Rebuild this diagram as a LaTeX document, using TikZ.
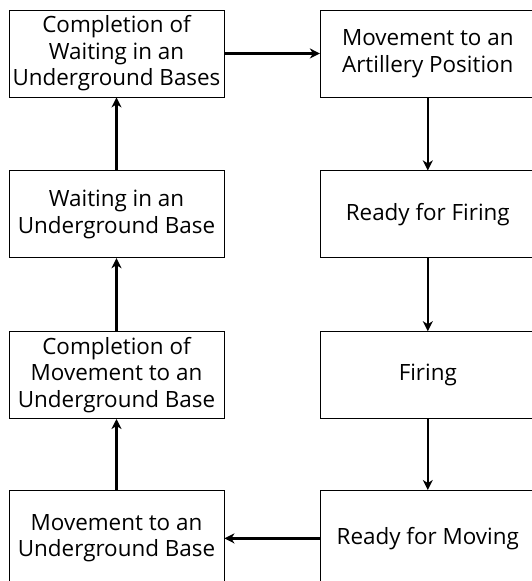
\documentclass[tikz,border=0pt]{standalone}
\usepackage{fontspec}
\setmainfont{Open Sans}
\usetikzlibrary{positioning,arrows.meta}

\begin{document}
\begin{tikzpicture}[
     x = 1bp, y = 1bp,
     node distance = 73bp and 95bp,
     stage/.style = {draw, line width = 0.8bp, minimum width = 215bp, minimum height = 87bp,
                     inner sep = 0pt, align = center, font = \fontsize{22.5}{26.5}\selectfont},
     flow/.style = {-{Stealth[length=10bp,width=10bp,inset=3bp]}, line width = 2.4bp}
    ]
    \useasboundingbox (0,0) rectangle (532,581);
    \clip (0,0) rectangle (532,581);

    \node[stage] (waitdone) at (116.5,527.5) {Completion of\\Waiting in an\\Underground Bases};
    \node[stage, right = 95.5bp of waitdone] (toartillery) {Movement to an\\Artillery Position};
    \node[stage, below = of toartillery] (readyfire) {Ready for Firing};
    \node[stage, below = of readyfire] (firing) {Firing};
    \node[stage, below = 71bp of firing, minimum height = 96bp] (readymove) {Ready for Moving};

    \node[stage, below = of waitdone] (waiting) {Waiting in an\\Underground Base};
    \node[stage, below = of waiting] (movedone) {Completion of\\Movement to an\\Underground Base};
    \node[stage, below = 71bp of movedone, minimum height = 96bp] (tobase) {Movement to an\\Underground Base};

    % clockwise cycle
    \draw[flow] (waitdone) -- (toartillery);
    \draw[flow] (toartillery) -- (readyfire);
    \draw[flow] (readyfire) -- (firing);
    \draw[flow] (firing) -- (readymove);
    \draw[flow] (readymove) -- (tobase);
    \draw[flow] (tobase) -- (movedone);
    \draw[flow] (movedone) -- (waiting);
    \draw[flow] (waiting) -- (waitdone);
\end{tikzpicture}
\end{document}
